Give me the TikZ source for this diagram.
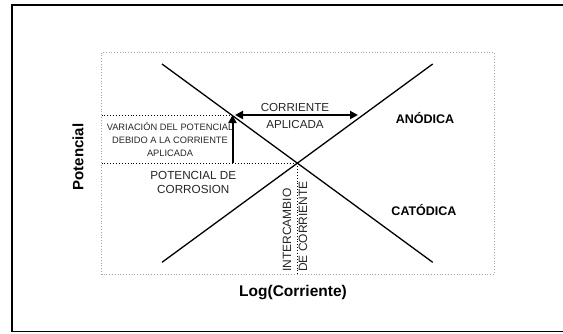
\documentclass[tikz,border=0pt]{standalone}
\usepackage{fontspec}
\setmainfont{Liberation Sans}
\usetikzlibrary{arrows.meta}
\begin{document}
\begin{tikzpicture}[x=1pt,y=-1pt,
  curve/.style={line width=1.3pt,black},
  guide/.style={line width=0.9pt,dotted,black},
  boxline/.style={line width=0.8pt,dotted,gray!70},
  thickarrow/.style={line width=2pt,-{Triangle[length=8pt,width=8pt]}},
  lbl/.style={inner sep=0pt,align=center,text=black!85},
  bold/.style={inner sep=0pt,font=\bfseries}]
\useasboundingbox (0,0) rectangle (563,333);
% outer frame
\draw[line width=1.3pt] (12,5) -- (570,5);
\draw[line width=1.3pt] (12,331.5) -- (570,331.5);
\draw[line width=2pt] (12,4.4) -- (12,332.1);
% dotted plot box
\draw[boxline] (101.5,52.5) rectangle (494,274.3);
% coordinates of the two lines
\coordinate (ct) at (162,64);
\coordinate (cb) at (432.7,262.3);
\coordinate (ab) at (162,262.3);
\coordinate (at) at (432.7,64);
\coordinate (x) at (297.35,163.15);
\coordinate (yl) at (101.5,163.15);
\coordinate (ul) at (101.5,115);
\coordinate (up) at (232.5,115);
\coordinate (lo) at (232.5,163.15);
\coordinate (ha) at (235,115);
\coordinate (hb) at (358,115);
\coordinate (xb) at (297.35,274.3);
% guides
\draw[guide] (yl) -- (x);
\draw[guide] (ul) -- (up);
\draw[guide] (x) -- (xb);
% lines
\draw[curve] (ct) -- (cb);
\draw[curve] (ab) -- (at);
% arrows
\draw[thickarrow] (lo) -- (up);
\draw[thickarrow,{Triangle[length=8pt,width=8pt]}-{Triangle[length=8pt,width=8pt]}] (ha) -- (hb);
% labels
\node[lbl,font=\fontsize{11.6}{16.7}\selectfont] (ca) at (295,116) {CORRIENTE\\APLICADA};
\node[lbl,font=\fontsize{9.3}{13}\selectfont] (vp) at (170,139.5) {VARIACIÓN DEL POTENCIAL\\DEBIDO A LA CORRIENTE\\APLICADA};
\node[lbl,font=\fontsize{11.7}{14}\selectfont] (pc) at (193.3,182.5) {POTENCIAL DE\\CORROSION};
\node[bold,font=\bfseries\fontsize{12.5}{15}\selectfont] (an) at (425,118) {ANÓDICA};
\node[bold,font=\bfseries\fontsize{12.5}{15}\selectfont] (cat) at (424,210) {CATÓDICA};
\node[bold,font=\bfseries\fontsize{15}{18}\selectfont,rotate=90] (pot) at (78,157) {Potencial};
\node[bold,font=\bfseries\fontsize{15.5}{18}\selectfont] (lc) at (293,293) {Log(Corriente)};
\node[lbl,align=left,anchor=west,rotate=90,font=\fontsize{12}{16}\selectfont] (ic) at (295,272) {INTERCAMBIO\\DE CORRIENTE};
\end{tikzpicture}
\end{document}
